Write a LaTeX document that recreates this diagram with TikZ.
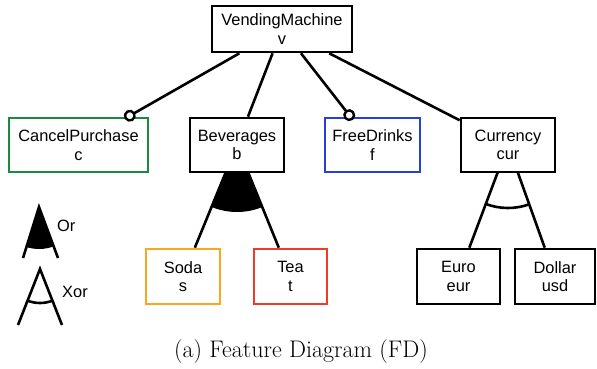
\documentclass[tikz,border=0pt]{standalone}
\usepackage{fontspec}
\newfontfamily\hel{Liberation Sans}
\usetikzlibrary{arrows.meta,backgrounds}
\definecolor{cgreen}{RGB}{27,138,62}
\definecolor{cblue}{RGB}{38,64,222}
\definecolor{corange}{RGB}{250,166,30}
\definecolor{cred}{RGB}{238,60,44}
\begin{document}
\begin{tikzpicture}[x=1pt,y=-1pt, line width=2.6pt,
  gline/.style={line width=2.6pt},
  feat/.style={draw, fill=white, rectangle, inner sep=0pt, align=center, gline,
    font=\hel\fontsize{16.4}{18.5}\selectfont, minimum height=54pt},
  optedge/.style={gline, -{Circle[open, length=12pt, width=12pt, fill=white, line width=2.4pt]}, shorten >=-4pt},
  lbl/.style={inner sep=0pt, font=\hel\fontsize{16.4}{18.5}\selectfont}]
\useasboundingbox (0,0) rectangle (597,369);

\node[feat, minimum width=140pt, minimum height=46pt] (vm) at (282,29) {VendingMachine\\v};
\node[feat, draw=cgreen, minimum width=139pt] (c) at (78.5,145) {CancelPurchase\\c};
\node[feat, minimum width=94pt] (b) at (237,145) {Beverages\\b};
\node[feat, draw=cblue, minimum width=95pt] (f) at (372.5,145) {FreeDrinks\\f};
\node[feat, minimum width=94pt] (cur) at (508,145) {Currency\\cur};
\node[feat, draw=corange, minimum width=74pt, minimum height=55pt] (s) at (183,276.5) {Soda\\s};
\node[feat, draw=cred, minimum width=73pt, minimum height=55pt] (t) at (290.5,276.5) {Tea\\t};
\node[feat, minimum width=83pt, minimum height=55pt] (eur) at (458.5,276.5) {Euro\\eur};
\node[feat, minimum width=80pt, minimum height=55pt] (usd) at (555,276.5) {Dollar\\usd};

\draw[gline] (vm) -- (b);
\draw[gline] (vm) -- (cur);
\draw[optedge] (vm) -- (c);
\draw[optedge] (vm) -- (f);

\begin{pgfonlayer}{background}
  \draw[gline] (b.center) -- (s);
  \draw[gline] (b.center) -- (t);
  \fill (b.center) -- ++(247.7:67pt) arc[start angle=247.7, end angle=292.1, radius=67pt] -- cycle;
  \draw[gline] (cur.center) -- (eur);
  \draw[gline] (cur.center) -- (usd);
  \draw[gline] (cur.center) ++(249.4:63pt) arc[start angle=249.4, end angle=289.7, radius=63pt];
\end{pgfonlayer}

% legend
\fill (39,207) -- ++(252.6:42pt) arc[start angle=252.6, end angle=290.4, radius=42pt] -- cycle;
\draw[gline] (23,258) -- (39,207) -- (58,258);
\node[lbl, anchor=base west] (orl) at (57,231) {Or};
\draw[gline] (18,325) -- (40,269) -- (62,325);
\draw[gline] (40,269) ++(248.9:34pt) arc[start angle=248.9, end angle=291.1, radius=34pt];
\node[lbl, anchor=base west] (xorl) at (62,297) {Xor};

\node[anchor=base, inner sep=0pt, font=\fontsize{24}{28}\selectfont] (cap) at (301,357) {(a) Feature Diagram (FD)};
\end{tikzpicture}
\end{document}
